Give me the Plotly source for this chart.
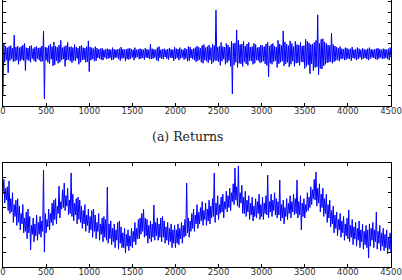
import plotly.graph_objects as go

# buckets of 20 observations: 0, 20, ..., 4500
bucket_start = list(range(0, 4501, 20))

# (a) returns (%): highest and lowest value inside each bucket
ret_high = [
    2.1, 1.5, 1.2, 1.4, 1.6, 1.1, 3.6, 1.3, 1.5, 1.2,
    1.4, 1.7, 2.0, 1.2, 1.1, 1.5, 1.6, 1.0, 1.3, 1.4,
    1.1, 1.2, 1.5, 4.4, 1.3, 1.2, 1.6, 1.9, 1.4, 2.3,
    1.5, 1.3, 1.7, 2.6, 1.2, 1.4, 1.6, 2.2, 1.3, 1.4,
    1.2, 1.8, 1.3, 1.1, 1.5, 1.6, 1.2, 1.1, 1.4, 2.5,
    1.3, 1.2, 1.0, 1.4, 1.1, 0.9, 1.0, 1.1, 0.8, 0.9,
    1.0, 0.9, 0.8, 1.2, 0.9, 0.8, 0.9, 1.0, 1.3, 0.9,
    0.8, 0.9, 1.0, 1.1, 0.9, 0.8, 1.2, 0.8, 0.9, 1.0,
    0.9, 0.8, 1.1, 0.9, 0.8, 1.9, 1.0, 0.9, 0.8, 1.2,
    1.4, 0.8, 0.9, 1.0, 0.8, 0.9, 1.1, 0.9, 0.8, 1.3,
    1.0, 0.9, 1.2, 0.9, 0.8, 1.1, 0.9, 1.4, 1.3, 0.9,
    1.0, 1.2, 1.5, 1.3, 1.1, 1.6, 1.8, 1.2, 1.4, 1.7,
    1.2, 1.9, 1.6, 8.4, 1.3, 1.5, 2.2, 1.4, 1.3, 2.0,
    1.7, 1.3, 2.4, 2.0, 2.1, 4.6, 2.6, 1.8, 1.9, 2.4,
    1.5, 1.9, 2.2, 1.3, 1.4, 2.0, 1.8, 1.2, 1.3, 1.7,
    1.6, 1.4, 1.9, 2.2, 1.5, 1.8, 2.0, 1.5, 1.3, 2.6,
    1.9, 1.6, 4.4, 2.3, 1.9, 1.6, 2.5, 2.0, 1.4, 2.4,
    1.8, 1.7, 2.2, 1.5, 1.6, 2.8, 2.4, 2.1, 1.8, 1.9,
    2.2, 2.6, 7.5, 2.0, 2.8, 2.9, 2.3, 2.0, 1.7, 1.6,
    4.0, 1.8, 1.5, 1.3, 1.1, 1.4, 1.0, 0.9, 1.2, 1.1,
    0.9, 1.0, 1.3, 0.8, 0.9, 1.2, 1.0, 0.8, 1.1, 0.9,
    0.8, 1.0, 1.2, 0.9, 0.8, 0.9, 1.0, 1.1, 0.9, 0.8,
    1.0, 0.9, 0.8, 1.0, 1.2, 0.7,
]
ret_low = [
    -8.0, -1.6, -1.2, -3.6, -1.3, -1.0, -1.5, -1.4, -1.2, -2.0,
    -1.4, -1.1, -1.3, -3.2, -1.1, -1.3, -1.6, -0.9, -1.3, -1.5,
    -0.9, -1.2, -1.5, -1.4, -8.6, -1.2, -1.6, -1.9, -1.0, -2.3,
    -2.1, -1.3, -1.8, -1.6, -1.2, -1.0, -2.4, -1.2, -1.1, -1.4,
    -1.7, -1.3, -1.3, -0.9, -2.0, -1.6, -1.2, -1.1, -1.6, -1.5,
    -3.4, -1.2, -1.0, -1.4, -1.3, -0.8, -0.9, -1.1, -1.2, -0.7,
    -1.0, -0.9, -0.8, -1.2, -1.1, -0.8, -0.7, -1.0, -1.3, -0.9,
    -0.8, -1.4, -1.0, -1.1, -0.9, -0.7, -1.2, -0.8, -0.6, -1.0,
    -0.9, -0.8, -1.1, -0.7, -0.8, -1.0, -1.0, -0.9, -0.7, -1.2,
    -1.4, -0.8, -0.9, -1.0, -0.6, -0.9, -1.1, -0.7, -0.8, -1.3,
    -1.0, -0.8, -1.2, -0.9, -0.7, -1.1, -0.9, -1.4, -1.3, -0.8,
    -1.0, -1.2, -1.5, -1.3, -1.1, -1.6, -1.8, -1.2, -1.4, -1.7,
    -1.2, -1.9, -1.6, -1.3, -1.3, -1.5, -2.2, -1.4, -1.0, -2.0,
    -1.7, -1.3, -2.4, -7.7, -2.1, -1.6, -2.6, -1.8, -1.9, -2.4,
    -1.5, -1.9, -2.2, -1.3, -1.4, -2.0, -1.8, -1.2, -1.3, -1.7,
    -1.6, -1.4, -1.9, -2.2, -4.4, -1.8, -2.0, -1.5, -1.3, -2.6,
    -1.9, -1.6, -1.4, -2.3, -1.9, -1.6, -2.5, -2.0, -1.4, -2.4,
    -1.8, -1.7, -2.2, -1.5, -1.6, -2.8, -2.4, -2.1, -3.8, -1.9,
    -3.2, -2.6, -2.5, -4.0, -2.8, -2.9, -2.3, -2.0, -1.7, -1.6,
    -1.5, -1.8, -1.5, -1.3, -1.1, -1.4, -1.0, -0.9, -1.2, -1.1,
    -0.9, -1.0, -1.3, -0.8, -0.9, -1.2, -1.0, -0.7, -1.1, -0.9,
    -0.8, -1.0, -1.2, -0.9, -0.7, -0.8, -1.0, -1.1, -0.9, -0.7,
    -1.0, -0.9, -0.8, -1.0, -1.2, -0.6,
]

# (b) second series: highest and lowest value inside each bucket
lev_high = [
    5.9, 5.3, 5.4, 5.79, 4.6, 5.0, 4.2, 4.5, 4.6, 4.1,
    3.6, 4.2, 3.3, 3.7, 3.9, 3.4, 2.8, 3.3, 2.9, 3.5,
    3.0, 3.4, 3.1, 6.53, 3.6, 3.2, 3.9, 3.6, 4.3, 4.5,
    4.6, 4.1, 5.45, 4.4, 5.2, 5.65, 4.8, 5.3, 4.5, 6.33,
    4.9, 4.3, 4.6, 4.7, 4.5, 4.1, 3.8, 4.2, 3.5, 3.9,
    3.4, 3.8, 3.9, 3.5, 3.0, 3.6, 2.9, 3.3, 3.4, 3.2,
    5.38, 2.9, 3.1, 2.6, 2.9, 2.5, 3.0, 3.1, 2.7, 2.3,
    2.6, 2.2, 2.5, 2.1, 2.6, 2.4, 3.0, 2.6, 3.2, 3.3,
    3.6, 3.9, 3.3, 3.2, 2.8, 3.1, 2.9, 4.17, 3.0, 3.3,
    2.9, 3.3, 3.4, 3.1, 2.7, 3.0, 2.6, 2.9, 2.5, 2.8,
    2.5, 2.9, 2.6, 3.0, 2.8, 3.2, 5.65, 3.3, 3.1, 3.6,
    3.9, 3.5, 4.2, 3.7, 4.0, 4.4, 3.8, 4.3, 3.9, 4.5,
    4.1, 4.6, 6.33, 4.3, 4.8, 4.2, 4.7, 4.9, 4.4, 5.1,
    4.8, 5.3, 5.0, 5.6, 6.66, 5.4, 6.8, 5.0, 5.5, 4.7,
    5.1, 4.5, 4.8, 4.3, 4.7, 4.1, 4.6, 4.4, 4.9, 4.2,
    4.7, 4.3, 4.8, 6.19, 4.4, 4.9, 4.5, 5.0, 4.6, 4.4,
    5.85, 4.2, 4.5, 4.0, 4.6, 4.3, 4.8, 4.4, 4.9, 4.6,
    5.85, 4.4, 4.8, 4.3, 4.6, 4.2, 5.0, 4.7, 5.4, 5.2,
    5.9, 6.39, 5.3, 5.6, 4.9, 5.3, 4.6, 4.9, 4.2, 4.5,
    3.8, 4.1, 3.5, 3.7, 3.2, 3.6, 3.1, 3.4, 2.9, 3.3,
    3.84, 2.8, 3.2, 2.7, 3.0, 2.6, 3.1, 2.5, 2.9, 2.4,
    2.8, 2.5, 2.9, 2.6, 3.0, 2.5, 3.70, 2.4, 2.8, 2.3,
    2.6, 2.2, 2.5, 2.0, 2.3, 2.1,
]
lev_low = [
    4.9, 4.3, 4.5, 3.8, 3.6, 3.7, 3.0, 3.4, 2.8, 3.0,
    2.5, 2.9, 2.3, 2.4, 1.9, 2.3, 1.14, 2.2, 1.7, 2.1,
    1.8, 2.2, 2.0, 2.4, 1.0, 2.3, 2.7, 2.5, 3.0, 2.8,
    3.2, 2.9, 3.6, 3.3, 3.9, 4.0, 3.8, 4.1, 3.5, 3.6,
    3.4, 3.1, 3.5, 2.9, 3.2, 3.0, 2.6, 2.9, 2.4, 2.8,
    2.3, 2.5, 2.0, 2.4, 1.9, 2.4, 1.8, 2.2, 1.7, 2.0,
    1.8, 1.6, 1.9, 1.5, 1.7, 1.3, 1.8, 1.2, 1.6, 1.3,
    1.3, 0.94, 1.4, 1.1, 1.4, 1.3, 1.7, 1.5, 1.9, 1.9,
    2.2, 2.4, 2.0, 2.1, 1.6, 1.9, 1.7, 2.0, 1.8, 2.1,
    1.8, 2.0, 1.7, 2.0, 1.6, 1.8, 1.5, 1.7, 1.3, 1.6,
    1.3, 1.6, 1.5, 1.9, 1.6, 2.0, 2.1, 2.3, 2.0, 2.4,
    2.6, 2.4, 2.9, 2.6, 2.9, 3.1, 2.8, 3.2, 2.8, 3.1,
    2.9, 3.3, 3.4, 3.0, 3.5, 3.2, 3.6, 3.7, 3.3, 3.9,
    3.7, 4.0, 3.8, 4.4, 4.2, 4.5, 4.1, 4.0, 4.3, 3.6,
    3.6, 3.4, 3.7, 3.2, 3.5, 3.1, 3.4, 3.3, 3.6, 3.2,
    3.4, 3.2, 3.6, 3.5, 3.3, 3.7, 3.4, 3.8, 3.5, 3.3,
    3.5, 3.1, 3.3, 2.9, 3.4, 3.2, 3.6, 3.3, 3.7, 3.5,
    3.6, 3.3, 3.5, 2.49, 3.4, 3.3, 3.7, 3.8, 4.0, 4.2,
    4.6, 4.5, 4.1, 4.3, 3.7, 4.0, 3.4, 3.6, 3.0, 3.3,
    2.7, 2.9, 2.3, 2.6, 2.1, 2.5, 2.0, 2.3, 1.8, 2.1,
    1.9, 1.7, 2.0, 1.5, 1.9, 1.4, 1.8, 1.3, 1.7, 1.2,
    1.5, 1.3, 0.61, 1.4, 1.8, 1.3, 1.7, 1.2, 1.6, 1.1,
    1.4, 1.1, 1.3, 0.9, 1.2, 1.0,
]

x_ticks = [0, 500, 1000, 1500, 2000, 2500, 3000, 3500, 4000, 4500]
caption_a = "(a) Returns"


def envelope_path(starts, lows, highs):
    xs, ys = [], []
    for s, lo, hi in zip(starts, lows, highs):
        xs += [s, s + 10]
        ys += [lo, hi]
    return xs, ys


line_color = "#0000ff"
xa, ya = envelope_path(bucket_start, ret_low, ret_high)
xb, yb = envelope_path(bucket_start, lev_low, lev_high)

fig = go.Figure()
fig.add_trace(go.Scatter(x=xa, y=ya, mode="lines",
                         line=dict(color=line_color, width=1),
                         xaxis="x", yaxis="y", showlegend=False, hoverinfo="skip"))
fig.add_trace(go.Scatter(x=xb, y=yb, mode="lines",
                         line=dict(color=line_color, width=1),
                         xaxis="x2", yaxis="y2", showlegend=False, hoverinfo="skip"))

tick_font = dict(family="DejaVu Sans", size=8.5, color="#333333")
common_x = dict(range=[0, 4500], tickvals=x_ticks, ticktext=[str(v) for v in x_ticks],
                ticks="inside", ticklen=3, tickcolor="black", showline=True,
                linecolor="black", linewidth=1, showgrid=False, zeroline=False,
                tickfont=tick_font, ticklabeloverflow="allow", ticklabelstandoff=-3)
common_y = dict(ticks="inside", ticklen=3, tickcolor="black", showline=True,
                linecolor="black", linewidth=1, showgrid=False, zeroline=False,
                showticklabels=False, mirror="ticks")

fig.update_layout(
    width=402, height=280,
    margin=dict(l=2, r=4, t=0, b=0, pad=0),
    paper_bgcolor="white", plot_bgcolor="white",
    xaxis=dict(domain=[0, 1], anchor="y", mirror=False, **common_x),
    yaxis=dict(domain=[1 - 106 / 280, 1], anchor="x", range=[-10.0, 10.34], dtick=2, **common_y),
    xaxis2=dict(domain=[0, 1], anchor="y2", mirror="ticks", **common_x),
    yaxis2=dict(domain=[1 - 267 / 280, 1 - 163 / 280], anchor="x2", range=[0, 7], dtick=1, **common_y),
    annotations=[dict(text=caption_a, x=192 / 402, y=1 - 136 / 280, xref="paper", yref="paper",
                      showarrow=False, xanchor="center", yanchor="middle",
                      font=dict(family="DejaVu Serif", size=12.5, color="#222222"))],
)

fig.write_html("out.html")
